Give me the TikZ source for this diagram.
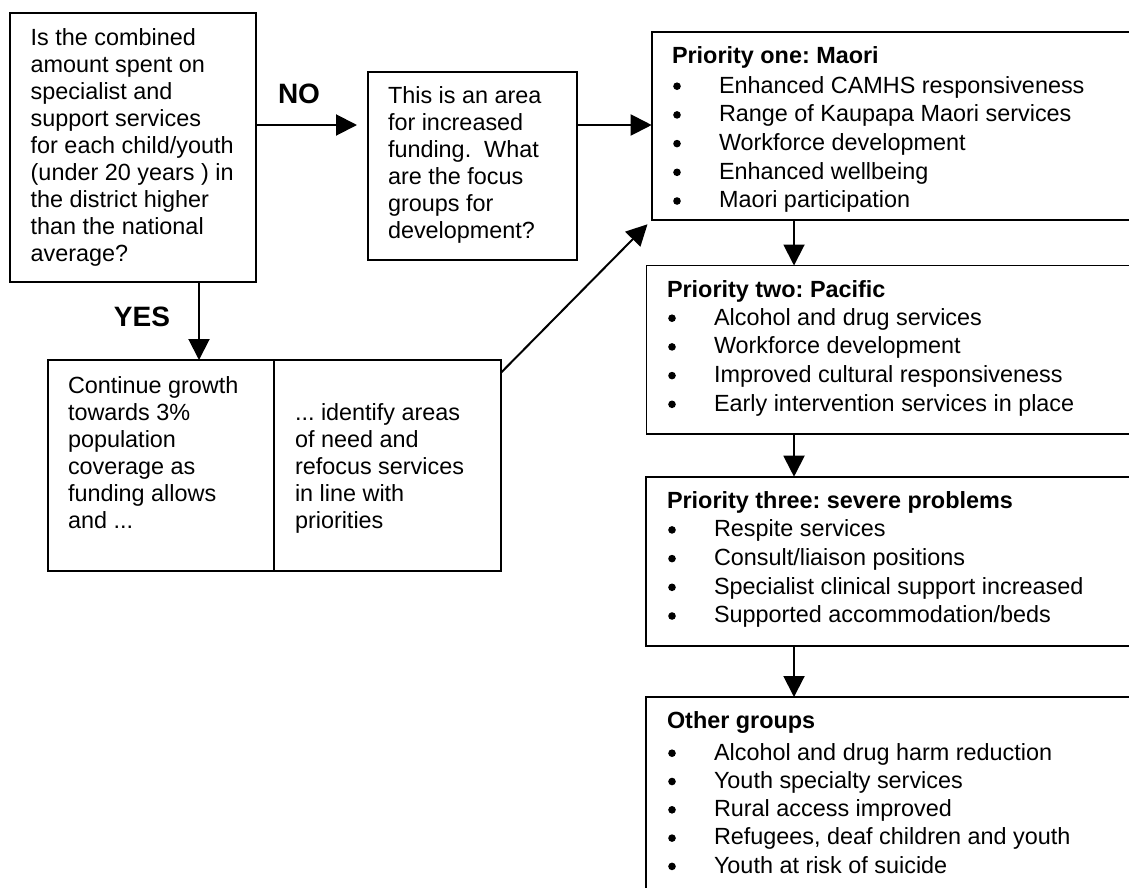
\documentclass[tikz,border=0pt]{standalone}
\usepackage{fontspec}
\setmainfont{Liberation Sans}
\usetikzlibrary{arrows.meta,calc}
\newcommand\mydots{...}
\newcommand\mybul{\hspace*{47pt}}
\frenchspacing
\begin{document}
\begin{tikzpicture}[x=1pt,y=-1pt,
  box/.style={draw=black, line width=1.6pt, inner sep=0pt, outer sep=0pt, anchor=north west},
  txt/.style={anchor=base west, inner sep=0pt, outer sep=0pt, font=\fontsize{23.4}{27}\selectfont},
  hd/.style={anchor=base west, inner sep=0pt, outer sep=0pt, font=\fontsize{23.4}{27}\selectfont\bfseries},
  lbl/.style={anchor=base, inner sep=0pt, outer sep=0pt, font=\fontsize{28}{32}\selectfont\bfseries},
  arr/.style={line width=2pt, -{Triangle[length=21pt,width=21pt]}},
  bul/.style={fill=black}
]
\useasboundingbox (0,0) rectangle (1129,887);
\fill[white] (0,0) rectangle (1129,887);
\begin{scope}
\clip (0,0) rectangle (1129,887);
\node[box, minimum width=246pt, minimum height=269.3pt] (A) at (10,12.7) {};
\node[box, minimum width=209pt, minimum height=188pt] (B) at (368,72) {};
\node[box, minimum width=488.3pt, minimum height=188.3pt] (C) at (651.7,31.7) {};
\node[box, minimum width=493.5pt, minimum height=168.5pt] (D) at (646.5,265.5) {};
\node[box, minimum width=494pt, minimum height=169.3pt] (E) at (646,476.7) {};
\node[box, minimum width=494pt, minimum height=210pt] (F) at (646,697) {};
\node[box, minimum width=226pt, minimum height=211pt] (G1) at (48,360) {};
\node[box, minimum width=227pt, minimum height=211pt] (G2) at (274,360) {};
\end{scope}

% texts of box A
\foreach \t [count=\i, evaluate=\i as \yy using 45+(\i-1)*27] in
  {Is the combined, amount spent on, specialist and, support services,
   for each child/youth, (under 20 years ) in, the district higher,
   than the national, average?}
  \node[txt] (a\i) at (30.7,\yy) {\t};

% texts of box B
\foreach \t [count=\i, evaluate=\i as \yy using 103.3+(\i-1)*27] in
  {This is an area, for increased, funding.\ \ What, are the focus,
   groups for, development?}
  \node[txt] (b\i) at (388,\yy) {\t};

% texts of box G
\foreach \t [count=\i, evaluate=\i as \yy using 393.3+(\i-1)*27] in
  {Continue growth, towards 3\%, population, coverage as, funding allows, and \mydots}
  \node[txt] (g\i) at (68,\yy) {\t};
\foreach \t [count=\i, evaluate=\i as \yy using 420+(\i-1)*27] in
  {\mydots{} identify areas, of need and, refocus services, in line with, priorities}
  \node[txt] (h\i) at (295,\yy) {\t};

% priority one
\node[hd] (ch) at (672,63) {Priority one: Maori};
\foreach \t [count=\i, evaluate=\i as \yy using 93+(\i-1)*28.7] in
  {Enhanced CAMHS responsiveness, Range of Kaupapa Maori services,
   Workforce development, Enhanced wellbeing, Maori participation}
  {\node[txt] (c\i) at (672,\yy) {\mybul\t};
   \fill[bul] ([shift={(5,-6.8)}]c\i.base west) circle (3.8pt);}

% priority two
\node[hd] (dh) at (667,297) {Priority two: Pacific};
\foreach \t [count=\i, evaluate=\i as \yy using 325+(\i-1)*28.7] in
  {Alcohol and drug services, Workforce development,
   Improved cultural responsiveness, Early intervention services in place}
  {\node[txt] (d\i) at (667,\yy) {\mybul\t};
   \fill[bul] ([shift={(5,-6.8)}]d\i.base west) circle (3.8pt);}

% priority three
\node[hd] (eh) at (667,508) {Priority three: severe problems};
\foreach \t [count=\i, evaluate=\i as \yy using 536.7+(\i-1)*28.7] in
  {Respite services, Consult/liaison positions,
   Specialist clinical support increased, Supported accommodation/beds}
  {\node[txt] (e\i) at (667,\yy) {\mybul\t};
   \fill[bul] ([shift={(5,-6.8)}]e\i.base west) circle (3.8pt);}

% other groups
\node[hd] (fh) at (667,728) {Other groups};
\foreach \t [count=\i, evaluate=\i as \yy using 760+(\i-1)*28.3] in
  {Alcohol and drug harm reduction, Youth specialty services,
   Rural access improved, {Refugees, deaf children and youth},
   Youth at risk of suicide}
  {\node[txt] (f\i) at (667,\yy) {\mybul\t};
   \fill[bul] ([shift={(5,-6.8)}]f\i.base west) circle (3.8pt);}

% labels
\node[lbl] (no) at (299,103.3) {NO};
\node[lbl] (yes) at (142,326.7) {YES};

% connectors
\coordinate (yNO) at (0,125);
\coordinate (xYES) at (199,0);
\coordinate (xP) at (794,0);
\draw[arr, shorten >=11pt] (A.east |- yNO) -- (B.west |- yNO);
\draw[arr] (B.east |- yNO) -- (C.west |- yNO);
\draw[arr] (A.south -| xYES) -- (G1.north -| xYES);
\draw[arr, shorten >=6pt] ($(G2.north east)+(0,12.7)$) -- (C.south west);
\draw[arr] (C.south -| xP) -- (D.north -| xP);
\draw[arr] (D.south -| xP) -- (E.north -| xP);
\draw[arr] (E.south -| xP) -- (F.north -| xP);
\end{tikzpicture}
\end{document}
